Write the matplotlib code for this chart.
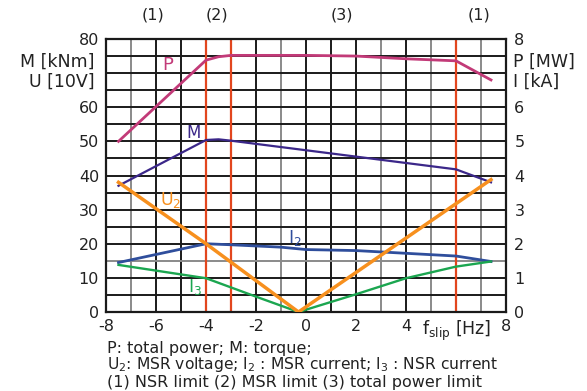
import matplotlib
matplotlib.use("Agg")
import matplotlib.pyplot as plt
from matplotlib.ticker import FixedLocator, FixedFormatter

plt.rcParams['font.family'] = ['DejaVu Sans']
plt.rcParams['mathtext.fontset'] = 'dejavusans'

# Operating curves versus slip frequency (left-axis units; right axis = left / 10)
p_x = [-7.5, -4.0, -3.5, -3.0, 0.0, 2.0, 4.0, 6.0, 7.4]
p_y = [50.0, 73.8, 74.8, 75.2, 75.2, 75.0, 74.2, 73.6, 68.0]

m_x = [-7.5, -4.0, -3.5, -3.0, 6.0, 7.4]
m_y = [37.0, 50.4, 50.6, 50.2, 41.8, 38.0]

u2_x = [-7.5, -4.0, -0.3, 7.4]
u2_y = [38.0, 20.0, 0.0, 38.8]

i2_x = [-7.5, -4.0, -3.0, -1.0, 0.0, 2.0, 4.0, 6.0, 7.4]
i2_y = [14.5, 20.0, 19.7, 19.0, 18.3, 18.0, 17.2, 16.4, 14.8]

i3_x = [-7.5, -4.0, -2.0, -0.3, 2.0, 4.0, 6.0, 7.4]
i3_y = [13.8, 9.9, 4.5, 0.0, 5.2, 9.9, 13.3, 14.8]

# Operating limits
limit_x = [-4.0, -3.0, 6.0]
region_labels = ["(1)", "(2)", "(3)", "(1)"]
region_x = [-6.12, -3.57, 1.43, 6.92]

x_ticks = [-8, -6, -4, -2, 0, 2, 4, 6, 8]
x_labels = ["-8", "-6", "-4", "-2", "0", "2", "4", "f$_{\\mathrm{slip}}$ [Hz]", "8"]
y_ticks = [0, 10, 20, 30, 40, 50, 60, 70, 80]
y_labels = ["0", "10", "20", "30", "40", "50", "60", "", "80"]
y2_labels = ["0", "1", "2", "3", "4", "5", "6", "", "8"]

fig = plt.figure(figsize=(5.87, 3.91), dpi=100)
ax = fig.add_axes([106 / 587, 79 / 391, 400 / 587, 273 / 391])
ax.set_xlim(-8, 8)
ax.set_ylim(0, 80)

# grid
dark, grey = "#1a1a1a", "#8a8a8a"
v_grey = {-7, -1, 3, 5, 7}
for gx in range(-7, 8):
    if gx in limit_x:
        continue
    ax.axvline(gx, color=grey if gx in v_grey else dark, lw=1.4, zorder=1)
for gy in range(5, 80, 5):
    ax.axhline(gy, color=grey if gy == 15 else dark, lw=1.4, zorder=1)

for lx in limit_x:
    ax.axvline(lx, color="#e2461e", lw=1.6, zorder=2)

ax.plot(p_x, p_y, color="#c23a78", lw=2.0, zorder=3)
ax.plot(m_x, m_y, color="#3b2789", lw=1.6, zorder=3)
ax.plot(i2_x, i2_y, color="#2f4e9c", lw=2.0, zorder=3)
ax.plot(i3_x, i3_y, color="#1ba650", lw=1.7, zorder=3)
ax.plot(u2_x, u2_y, color="#f7901e", lw=2.5, zorder=4)

ax.text(-5.52, 72.3, "P", color="#c23a78", fontsize=13, ha="center", va="center")
ax.text(-4.5, 52.4, "M", color="#3b2789", fontsize=12, ha="center", va="center")
ax.text(-5.85, 32.8, "U$_2$", color="#f7901e", fontsize=12.5, ha="left", va="center")
ax.text(-0.72, 21.8, "I$_2$", color="#2f4e9c", fontsize=12.5, ha="left", va="center")
ax.text(-4.72, 7.4, "I$_3$", color="#1ba650", fontsize=12.5, ha="left", va="center")

for lbl, rx in zip(region_labels, region_x):
    ax.text(rx, 86.9, lbl, fontsize=11.5, ha="center", va="center", color="#222")

ax.xaxis.set_major_locator(FixedLocator(x_ticks))
ax.xaxis.set_major_formatter(FixedFormatter(x_labels))
ax.yaxis.set_major_locator(FixedLocator(y_ticks))
ax.yaxis.set_major_formatter(FixedFormatter(y_labels))
ax.tick_params(length=0, labelsize=11.5, colors="#222")
ax.tick_params(axis="y", pad=5)
ax.tick_params(axis="x", pad=5)
ax.get_xticklabels()[7].set_fontsize(12.5)
for s in ax.spines.values():
    s.set_linewidth(1.6)
    s.set_color("#1a1a1a")

ax2 = ax.twinx()
ax2.set_ylim(0, 8)
ax2.yaxis.set_major_locator(FixedLocator(list(range(9))))
ax2.yaxis.set_major_formatter(FixedFormatter(y2_labels))
ax2.tick_params(length=0, labelsize=11.5, colors="#222", pad=6)
for s in ax2.spines.values():
    s.set_visible(False)

# axis unit labels
fig.text(94 / 587, 1 - 62 / 391, "M [kNm]", fontsize=12.5, ha="right", va="center", color="#222")
fig.text(95 / 587, 1 - 82 / 391, "U [10V]", fontsize=12.5, ha="right", va="center", color="#222")
fig.text(513 / 587, 1 - 62 / 391, "P [MW]", fontsize=12.5, ha="left", va="center", color="#222")
fig.text(513 / 587, 1 - 82 / 391, "I [kA]", fontsize=12.5, ha="left", va="center", color="#222")

fig.text(107 / 587, 1 - 349 / 391, "P: total power; M: torque;", fontsize=11.5, va="center", color="#222")
fig.text(107 / 587, 1 - 365 / 391, "U$_2$: MSR voltage; I$_2$ : MSR current; I$_3$ : NSR current",
         fontsize=11.2, va="center", color="#222")
fig.text(107 / 587, 1 - 382 / 391, "(1) NSR limit (2) MSR limit (3) total power limit",
         fontsize=11.5, va="center", color="#222")

fig.savefig("out.png", dpi=100)
